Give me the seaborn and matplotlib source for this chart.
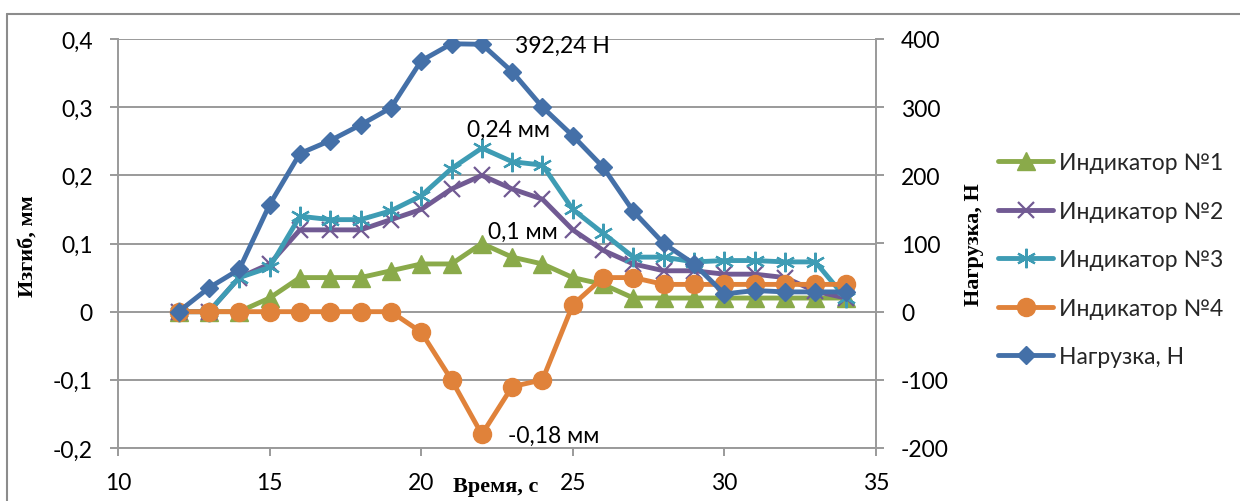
import matplotlib
matplotlib.use("Agg")
import matplotlib.pyplot as plt
import seaborn as sns
import numpy as np
from matplotlib.ticker import FuncFormatter
from matplotlib.lines import Line2D

# ---- data ----
time_s = [12, 13, 14, 15, 16, 17, 18, 19, 20, 21, 22, 23, 24, 25, 26, 27, 28, 29, 30, 31, 32, 33, 34]
ind1 = [0, 0, 0, 0.02, 0.05, 0.05, 0.05, 0.06, 0.07, 0.07, 0.10, 0.08, 0.07, 0.05, 0.04, 0.02,
        0.02, 0.02, 0.02, 0.02, 0.02, 0.02, 0.02]
ind2 = [0, 0, 0.05, 0.07, 0.12, 0.12, 0.12, 0.135, 0.15, 0.18, 0.20, 0.18, 0.165, 0.12, 0.09, 0.07,
        0.06, 0.06, 0.055, 0.055, 0.05, 0.03, 0.02]
ind3 = [0, 0, 0.05, 0.065, 0.14, 0.135, 0.135, 0.148, 0.17, 0.21, 0.24, 0.22, 0.215, 0.15, 0.115, 0.08,
        0.08, 0.073, 0.075, 0.075, 0.073, 0.073, 0.02]
ind4 = [0, 0, 0, 0, 0, 0, 0, 0, -0.03, -0.10, -0.18, -0.11, -0.10, 0.01, 0.05, 0.05,
        0.04, 0.04, 0.04, 0.04, 0.04, 0.04, 0.04]
load = [0, 35, 62, 157, 232, 251, 274, 299, 368, 393, 392.24, 352, 300, 258, 212, 147,
        100, 70, 26, 31, 29, 29, 29]

labels = ["Индикатор №1", "Индикатор №2", "Индикатор №3", "Индикатор №4", "Нагрузка, Н"]
x_ticks = [10, 15, 20, 25, 30, 35]
y_ticks = [-0.2, -0.1, 0, 0.1, 0.2, 0.3, 0.4]
y2_ticks = [-200, -100, 0, 100, 200, 300, 400]
annotations = [("392,24 Н", 23.1, 0.39), ("0,24 мм", 21.5, 0.268),
               ("0,1 мм", 22.2, 0.118), ("-0,18 мм", 22.85, -0.182)]

# ---- style ----
sns.set_theme(style="white")
plt.rcParams["font.family"] = ["Lato", "DejaVu Sans"]
TICK_FS = 16.5
GRAY = "#9a9a9a"

colors = ["#8AAA4A", "#715A93", "#3E9CB4", "#E0823A", "#4470A8"]

fig = plt.figure(figsize=(12.4, 5.02), dpi=100)
W, H = 1240, 502
ax = fig.add_axes([118 / W, 1 - 449 / H, (876 - 118) / W, (449 - 40) / H])
ax2 = ax.twinx()

lw = 3.5
sns.lineplot(x=time_s, y=ind1, ax=ax, color=colors[0], marker="^", markersize=12.5,
             markeredgecolor=colors[0], markeredgewidth=1, linewidth=lw, label=labels[0])
sns.lineplot(x=time_s, y=ind2, ax=ax, color=colors[1], marker="x", markersize=11,
             markeredgecolor=colors[1], markeredgewidth=1.6, linewidth=lw, label=labels[1])
sns.lineplot(x=time_s, y=ind3, ax=ax, color=colors[2], marker=(6, 2, 0), markersize=14,
             markeredgecolor=colors[2], markeredgewidth=1.6, linewidth=lw, label=labels[2])
sns.lineplot(x=time_s, y=ind4, ax=ax, color=colors[3], marker="o", markersize=13,
             markeredgecolor=colors[3], markeredgewidth=1, linewidth=lw, label=labels[3])
sns.lineplot(x=time_s, y=load, ax=ax2, color=colors[4], marker="D", markersize=9.5,
             markeredgecolor=colors[4], markeredgewidth=1, linewidth=lw, label=labels[4])

h1, l1 = ax.get_legend_handles_labels()
h2, l2 = ax2.get_legend_handles_labels()
for a in (ax, ax2):
    if a.get_legend() is not None:
        a.get_legend().remove()

ax.set_xlim(10, 35)
ax.set_ylim(-0.2, 0.4)
ax2.set_ylim(-200, 400)
ax.set_xticks(x_ticks)
ax.set_yticks(y_ticks)
ax2.set_yticks(y2_ticks)


def fmt_left(v, pos):
    if abs(v) < 1e-9:
        return "0"
    return f"{v:.1f}".replace(".", ",").replace("\u2212", "-")


ax.yaxis.set_major_formatter(FuncFormatter(fmt_left))
ax2.yaxis.set_major_formatter(FuncFormatter(lambda v, p: f"{int(round(v))}"))
ax.xaxis.set_major_formatter(FuncFormatter(lambda v, p: f"{int(round(v))}"))

ax.grid(axis="y", color=GRAY, linewidth=1.4)
ax.grid(axis="x", visible=False)
ax.set_axisbelow(True)

for s in ["top", "right"]:
    ax.spines[s].set_visible(False)
for s in ["left", "bottom"]:
    ax.spines[s].set_color(GRAY)
    ax.spines[s].set_linewidth(1.4)
for s in ["top", "left", "bottom"]:
    ax2.spines[s].set_visible(False)
ax2.spines["right"].set_color(GRAY)
ax2.spines["right"].set_linewidth(1.4)

ax.tick_params(axis="both", direction="out", length=6, width=1.4, color=GRAY,
               labelsize=TICK_FS, labelcolor="black")
ax.tick_params(axis="y", pad=12, left=True)
ax.tick_params(axis="x", pad=11, bottom=True)
ax2.tick_params(axis="y", direction="out", length=6, width=1.4, color=GRAY,
                labelsize=TICK_FS, labelcolor="black", pad=12, right=True)
ax.set_xlabel("")
ax.set_ylabel("")
ax2.set_ylabel("")

for txt, xx, yy in annotations:
    ax.text(xx, yy, txt, fontsize=TICK_FS, ha="left", va="center", color="black")

serif = dict(family=["Liberation Serif", "DejaVu Serif"], fontweight="bold", fontsize=16, color="black")
fig.text(28 / W, 1 - 246 / H, "Изгиб, мм", rotation=90, ha="center", va="center", **serif)
fig.text(974 / W, 1 - 245 / H, "Нагрузка, Н", rotation=90, ha="center", va="center", **serif)
fig.text(496 / W, 1 - 487 / H, "Время, с", ha="center", va="center", **serif)

fig.legend(h1 + h2, l1 + l2, loc="center left", bbox_to_anchor=(998 / W, 1 - 261 / H),
           frameon=False, fontsize=TICK_FS, handlelength=2.4, handletextpad=0.25,
           labelspacing=1.2, borderpad=0, borderaxespad=0)

# outer chart frame (top and left edges visible)
fig.add_artist(Line2D([7 / W, 7 / W], [0, 1 - 15 / H], transform=fig.transFigure,
                      color="#8c8c8c", linewidth=1.5))
fig.add_artist(Line2D([7 / W, 1], [1 - 15 / H, 1 - 15 / H], transform=fig.transFigure,
                      color="#8c8c8c", linewidth=1.5))

fig.savefig("out.png", dpi=100)
